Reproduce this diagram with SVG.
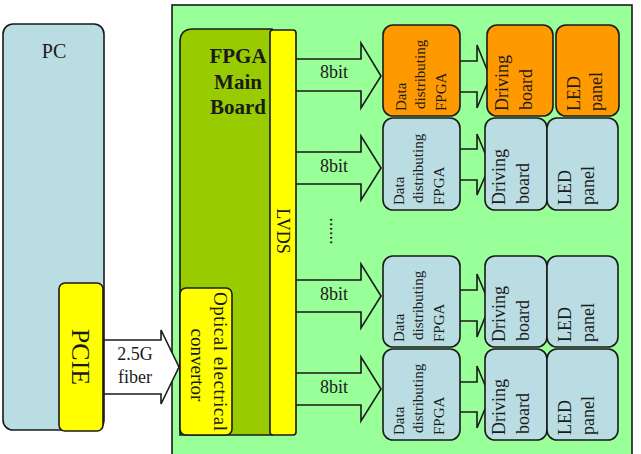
<svg xmlns="http://www.w3.org/2000/svg" width="641" height="454" viewBox="0 0 641 454">
<style>
text{font-family:"Liberation Serif","Times New Roman",serif;fill:#1a1a1a}
.b{stroke:#1a1a1a;stroke-width:1.6}
.bl{fill:#b9dde2}
.or{fill:#ff9900}
.ye{fill:#ffff00}
.ar{fill:#99ff99;stroke:#1a1a1a;stroke-width:1.6;stroke-linejoin:miter}
.f15{font-size:15px}
.f18{font-size:18px}
</style>
<rect id="bg" x="0" y="0" width="641" height="454" fill="#ffffff"/>
<g id="system">
<rect x="172" y="5" width="460" height="460" fill="#99ff99" class="b"/>
</g>
<g id="pc">
<rect x="3" y="24" width="101" height="406" rx="10" class="b bl"/>
<text x="54" y="58" font-size="20" text-anchor="middle">PC</text>
</g>
<g id="connectors">
<polygon points="104,340 161,340 161,330 179,367 161,404 161,394 104,394" fill="#ffffff" stroke="#1a1a1a" stroke-width="1.6"/>
<polygon class="ar" points="290,59 361,59 361,43 381,76 361,108 361,91 290,91"/>
<polygon class="ar" points="290,152 361,152 361,136 381,168 361,200 361,184 290,184"/>
<polygon class="ar" points="290,280 361,280 361,264 381,296 361,328 361,312 290,312"/>
<polygon class="ar" points="290,373 361,373 361,357 381,389 361,421 361,405 290,405"/>
<polygon class="ar" points="455,61 477,61 477,45 490,77 477,108 477,92 455,92"/>
<polygon class="ar" points="455,149 477,149 477,134 490,165 477,195 477,180 455,180"/>
<polygon class="ar" points="455,290 477,290 477,274 490,305 477,337 477,321 455,321"/>
<polygon class="ar" points="455,382 477,382 477,366 490,397 477,428 477,412 455,412"/>
<text class="f18" x="135" y="360" text-anchor="middle">2.5G</text>
<text class="f18" x="135" y="383" text-anchor="middle">fiber</text>
<text class="f18" x="334" y="78" text-anchor="middle">8bit</text>
<text class="f18" x="334" y="172" text-anchor="middle">8bit</text>
<text class="f18" x="334" y="300" text-anchor="middle">8bit</text>
<text class="f18" x="334" y="393" text-anchor="middle">8bit</text>
<text class="f18" transform="translate(330,231) rotate(90)" text-anchor="middle">......</text>
</g>
<g id="pcie">
<rect x="59" y="283" width="44" height="148" rx="6" class="b ye"/>
<text transform="translate(72,357) rotate(90)" font-size="26" text-anchor="middle">PCIE</text>
</g>
<g id="fpga-main-board">
<path d="M180,435 L180,42 Q180,29 193,29 L272,29 L272,435 Z" fill="#99cc00" class="b"/>
<text x="238" y="63" font-size="21" font-weight="bold" text-anchor="middle">FPGA</text>
<text x="238" y="88.5" font-size="21" font-weight="bold" text-anchor="middle">Main</text>
<text x="238" y="114" font-size="21" font-weight="bold" text-anchor="middle">Board</text>
</g>
<g id="lvds">
<rect x="270" y="30" width="26" height="405" rx="3" class="b ye"/>
<text transform="translate(277,231) rotate(90)" font-size="18" text-anchor="middle">LVDS</text>
</g>
<g id="optical-convertor">
<rect x="180" y="288" width="52" height="147" rx="6" class="b ye"/>
<text transform="translate(214,292) rotate(90)" font-size="19" textLength="139" lengthAdjust="spacing">Optical electrical</text>
<text transform="translate(191,365) rotate(90)" font-size="19" text-anchor="middle">convertor</text>
</g>
<g id="data-fpga-1">
<rect x="383" y="25" width="77" height="91" rx="10" class="b or"/>
<text class="f15" transform="translate(406,111) rotate(-90)">Data</text>
<text class="f15" transform="translate(425,109) rotate(-90)">distributing</text>
<text class="f15" transform="translate(446,111) rotate(-90)">FPGA</text>
</g>
<g id="driving-board-1">
<rect x="487" y="25" width="66" height="91" rx="10" class="b or"/>
<text class="f18" transform="translate(508,111) rotate(-90)">Driving</text>
<text class="f18" transform="translate(532,110) rotate(-90)">board</text>
</g>
<g id="led-panel-1">
<rect x="556" y="25" width="63" height="91" rx="10" class="b or"/>
<text class="f18" transform="translate(580,111) rotate(-90)">LED</text>
<text class="f18" transform="translate(602,111) rotate(-90)">panel</text>
</g>
<g id="data-fpga-2">
<rect x="383" y="118" width="77" height="92" rx="10" class="b bl"/>
<text class="f15" transform="translate(404,205) rotate(-90)">Data</text>
<text class="f15" transform="translate(423,203) rotate(-90)">distributing</text>
<text class="f15" transform="translate(444,205) rotate(-90)">FPGA</text>
</g>
<g id="driving-board-2">
<rect x="485" y="118" width="62" height="92" rx="10" class="b bl"/>
<text class="f18" transform="translate(505,205) rotate(-90)">Driving</text>
<text class="f18" transform="translate(529,204) rotate(-90)">board</text>
</g>
<g id="led-panel-2">
<rect x="547" y="118" width="71" height="92" rx="10" class="b bl"/>
<text class="f18" transform="translate(571,205) rotate(-90)">LED</text>
<text class="f18" transform="translate(594,205) rotate(-90)">panel</text>
</g>
<g id="data-fpga-3">
<rect x="383" y="256" width="77" height="91" rx="10" class="b bl"/>
<text class="f15" transform="translate(404,342) rotate(-90)">Data</text>
<text class="f15" transform="translate(423,340) rotate(-90)">distributing</text>
<text class="f15" transform="translate(444,342) rotate(-90)">FPGA</text>
</g>
<g id="driving-board-3">
<rect x="485" y="256" width="62" height="91" rx="10" class="b bl"/>
<text class="f18" transform="translate(505,342) rotate(-90)">Driving</text>
<text class="f18" transform="translate(529,341) rotate(-90)">board</text>
</g>
<g id="led-panel-3">
<rect x="547" y="256" width="71" height="91" rx="10" class="b bl"/>
<text class="f18" transform="translate(571,342) rotate(-90)">LED</text>
<text class="f18" transform="translate(594,342) rotate(-90)">panel</text>
</g>
<g id="data-fpga-4">
<rect x="383" y="349" width="77" height="91" rx="10" class="b bl"/>
<text class="f15" transform="translate(404,435) rotate(-90)">Data</text>
<text class="f15" transform="translate(423,433) rotate(-90)">distributing</text>
<text class="f15" transform="translate(444,435) rotate(-90)">FPGA</text>
</g>
<g id="driving-board-4">
<rect x="485" y="349" width="62" height="91" rx="10" class="b bl"/>
<text class="f18" transform="translate(505,435) rotate(-90)">Driving</text>
<text class="f18" transform="translate(529,434) rotate(-90)">board</text>
</g>
<g id="led-panel-4">
<rect x="547" y="349" width="71" height="91" rx="10" class="b bl"/>
<text class="f18" transform="translate(571,435) rotate(-90)">LED</text>
<text class="f18" transform="translate(594,435) rotate(-90)">panel</text>
</g>
</svg>
